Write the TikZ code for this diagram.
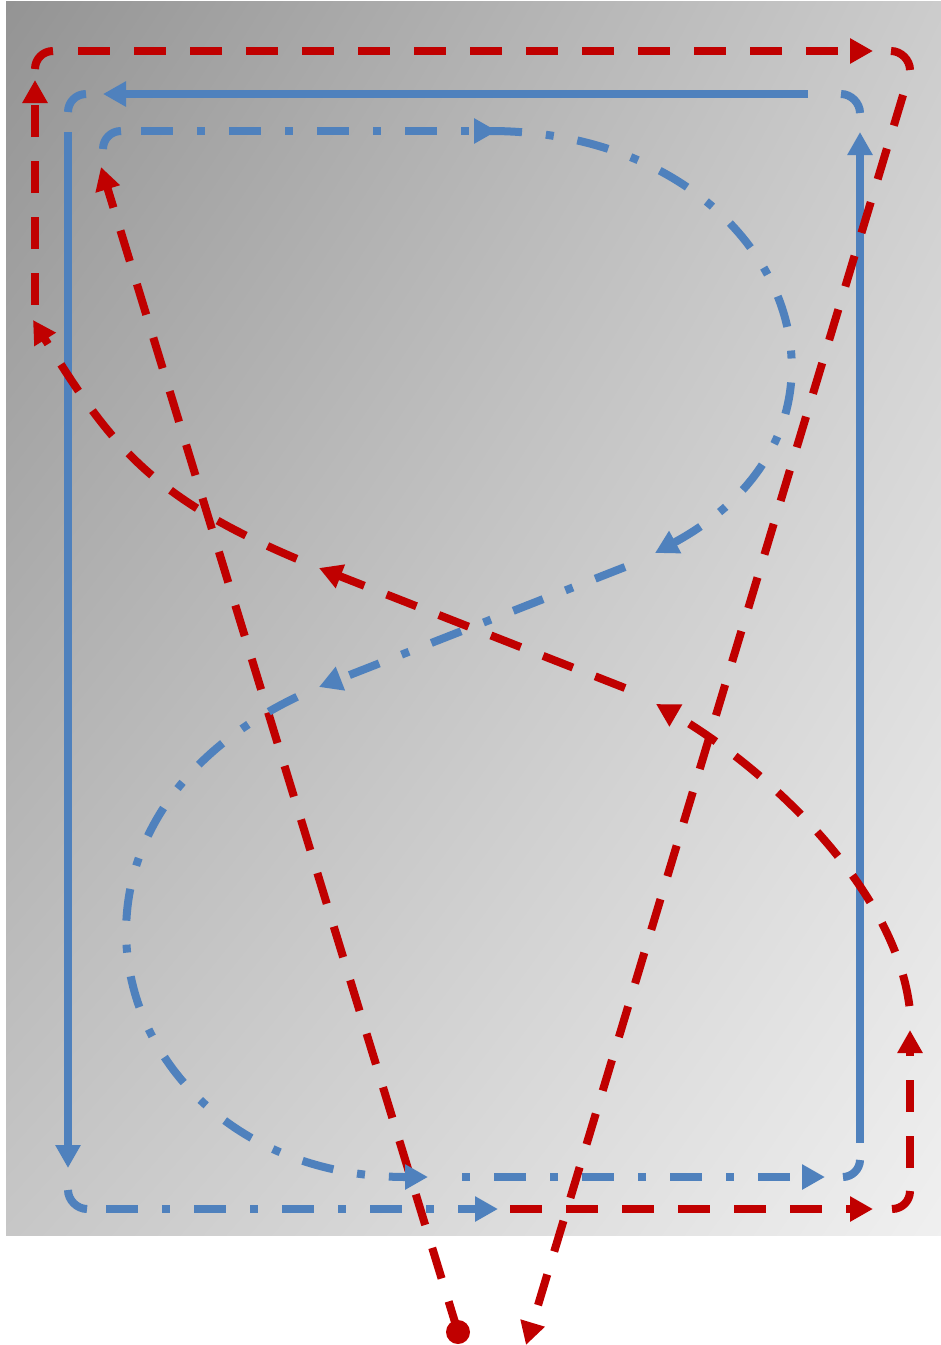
\documentclass[tikz,border=0pt]{standalone}
\usetikzlibrary{arrows.meta,shadings}
\definecolor{myred}{HTML}{C00000}
\definecolor{myblue}{HTML}{4F81BD}
\begin{document}
\begin{tikzpicture}[x=1pt,y=-1pt,
  base/.style={line width=8pt},
  rdash/.style={base, draw=myred, dash pattern=on 32pt off 24pt},
  rarc/.style={base, draw=myred},
  bsolid/.style={base, draw=myblue},
  bdd/.style={base, draw=myblue, dash pattern=on 32pt off 24pt on 8pt off 24pt},
  tip/.style={-{Triangle[length=23pt,width=24pt]}},
  dotnode/.style={circle, fill=myred, inner sep=0pt, minimum size=24pt}
]
\useasboundingbox (0,0) rectangle (941,1345);
\shade[upper left=black!42, upper right=black!20, lower left=black!22, lower right=black!6] (6,1) rectangle (941,1235);

% coordinates
\node[dotnode] (dot) at (458,1332) {};
\coordinate (r1e) at (101,167);
\coordinate (b1a) at (103,149); \coordinate (b1b) at (121,131);
\coordinate (b2a) at (141,131); \coordinate (b2b) at (497,131);
\coordinate (b3a) at (490,131); \coordinate (b3b) at (655,553);
\coordinate (b4a) at (625,567); \coordinate (b4b) at (319,687);
\coordinate (b5b) at (428,1177);
\coordinate (b6a) at (438,1177); \coordinate (b6b) at (825,1177);
\coordinate (b7a) at (843,1177); \coordinate (b7b) at (860,1160);
\coordinate (b8a) at (860,1143); \coordinate (b8b) at (860,132);
\coordinate (b9a) at (860,113); \coordinate (b9b) at (841,94);
\coordinate (b10a) at (808,94); \coordinate (b10b) at (103,94);
\coordinate (b11a) at (86,94); \coordinate (b11b) at (68,112);
\coordinate (b12a) at (68,132); \coordinate (b12b) at (68,1168);
\coordinate (b13a) at (68,1190); \coordinate (b13b) at (87,1209);
\coordinate (b14a) at (106,1209); \coordinate (b14b) at (498,1209);
\coordinate (r2a) at (510,1209); \coordinate (r2b) at (873,1209);
\coordinate (r3a) at (892,1209); \coordinate (r3b) at (910,1191);
\coordinate (r4a) at (910,1168); \coordinate (r4b) at (910,1030);
\coordinate (r5a) at (911,1030); \coordinate (r5b) at (656,704);
\coordinate (r6a) at (625,688); \coordinate (r6b) at (319,568);
\coordinate (r7b) at (33,320);
\coordinate (r8a) at (35,305); \coordinate (r8b) at (35,80);
\coordinate (r9a) at (35,69); \coordinate (r9b) at (53,51);
\coordinate (r10a) at (78,51); \coordinate (r10b) at (873,51);
\coordinate (r11a) at (891,51); \coordinate (r11b) at (910,70);
\coordinate (r12a) at (910,72); \coordinate (r12b) at (526,1345);

% red straight from dot
\draw[rdash, tip] (dot.center) -- (r1e);
% blue figure eight
\draw[bsolid] (b1a) .. controls (103,139) and (111,131) .. (b1b);
\draw[bdd, tip] (b2a) -- (b2b);
\draw[bdd, tip] (b3a) .. controls (780,131) and (900,420) .. (b3b);
\draw[bdd, tip] (b4a) -- (b4b);
\draw[bdd, tip, dash phase=64pt] (b4b) .. controls (0,820) and (110,1177) .. (b5b);
\draw[bdd, tip, dash phase=32pt] (b6a) -- (b6b);
% blue rectangle
\draw[bsolid] (b7a) .. controls (852,1177) and (860,1169) .. (b7b);
\draw[bsolid, tip] (b8a) -- (b8b);
\draw[bsolid] (b9a) .. controls (860,103) and (851,94) .. (b9b);
\draw[bsolid, tip] (b10a) -- (b10b);
\draw[bsolid] (b11a) .. controls (76,94) and (68,102) .. (b11b);
\draw[bsolid, tip] (b12a) -- (b12b);
\draw[bsolid] (b13a) .. controls (68,1200) and (77,1209) .. (b13b);
\draw[bdd, tip] (b14a) -- (b14b);
% red loop
\draw[rdash, tip] (r2a) -- (r2b);
\draw[rarc] (r3a) .. controls (902,1209) and (910,1201) .. (r3b);
\draw[rdash, tip] (r4a) -- (r4b);
\draw[rdash, tip, dash phase=32pt] (r5a) .. controls (911,900) and (768,769) .. (r5b);
\draw[rdash, tip] (r6a) -- (r6b);
\draw[rdash, tip, dash phase=32pt] (r6b) .. controls (152,501) and (113,448) .. (r7b);
\draw[rdash, tip] (r8a) -- (r8b);
\draw[rarc] (r9a) .. controls (35,59) and (43,51) .. (r9b);
\draw[rdash, tip] (r10a) -- (r10b);
\draw[rarc] (r11a) .. controls (901,51) and (910,60) .. (r11b);
\draw[rdash, tip, dash phase=32pt] (r12a) -- (r12b);
\end{tikzpicture}
\end{document}
